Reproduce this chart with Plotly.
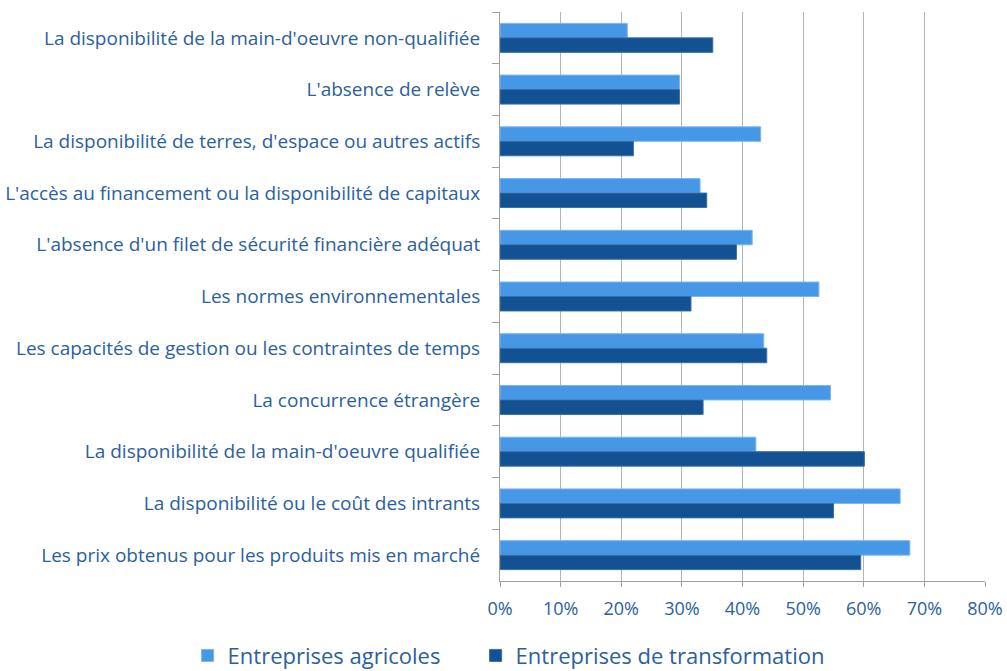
import plotly.graph_objects as go

categories = [
    "La disponibilité de la main-d'oeuvre non-qualifiée",
    "L'absence de relève",
    "La disponibilité de terres, d'espace ou autres actifs",
    "L'accès au financement ou la disponibilité de capitaux",
    "L'absence d'un filet de sécurité financière adéquat",
    "Les normes environnementales",
    "Les capacités de gestion ou les contraintes de temps",
    "La concurrence étrangère",
    "La disponibilité de la main-d'oeuvre qualifiée",
    "La disponibilité ou le coût des intrants",
    "Les prix obtenus pour les produits mis en marché",
]
# values in percent
agricoles = [21.0, 29.6, 43.0, 33.0, 41.6, 52.6, 43.5, 54.5, 42.2, 66.0, 67.6]
transformation = [35.1, 29.6, 22.0, 34.1, 39.0, 31.5, 44.0, 33.5, 60.1, 55.0, 59.5]
x_ticks = [0, 10, 20, 30, 40, 50, 60, 70, 80]
x_tick_labels = ["0%", "10%", "20%", "30%", "40%", "50%", "60%", "70%", "80%"]

text_color = "#2B5F9E"
font_family = "'Open Sans', sans-serif"

fig = go.Figure()
fig.add_trace(go.Bar(
    y=categories, x=agricoles, orientation="h", name="Entreprises agricoles",
    marker=dict(color="#4698E6", line=dict(color="#7AB6F0", width=1)),
    legend="legend",
))
fig.add_trace(go.Bar(
    y=categories, x=transformation, orientation="h", name="Entreprises de transformation",
    marker=dict(color="#125293", line=dict(color="#3A6FA8", width=1)),
    legend="legend2",
))

legend_common = dict(orientation="h", xref="container", yref="container",
                     xanchor="left", y=0.0229, yanchor="middle",
                     font=dict(size=22, color=text_color), bgcolor="rgba(0,0,0,0)")

fig.update_layout(
    width=1007, height=671,
    margin=dict(l=500, r=22, t=12, b=90),
    paper_bgcolor="white", plot_bgcolor="white",
    barmode="group", bargap=0.44, bargroupgap=0,
    font=dict(family=font_family, color=text_color, size=19),
    legend=dict(x=0.1863, **legend_common),
    legend2=dict(x=0.4723, **legend_common),
    showlegend=True,
)
fig.update_xaxes(
    range=[0, 80], tickvals=x_ticks, ticktext=x_tick_labels,
    showgrid=True, gridcolor="#B4B4B4", gridwidth=1,
    showline=True, linecolor="#A0A0A0", linewidth=1,
    ticks="outside", ticklen=5, tickcolor="#A0A0A0",
    tickfont=dict(size=18, color=text_color), zeroline=False,
    ticklabelstandoff=6, automargin=False,
)
fig.update_yaxes(
    autorange="reversed", type="category",
    showline=True, linecolor="#A0A0A0", linewidth=1,
    ticks="outside", ticklen=7, tickcolor="#A0A0A0", tickson="boundaries",
    tickfont=dict(size=19, color=text_color), ticklabelstandoff=15,
    showgrid=False, automargin=False,
)

fig.write_html("out.html", config={"displayModeBar": False},
               post_script="document.body.style.margin='0';")
